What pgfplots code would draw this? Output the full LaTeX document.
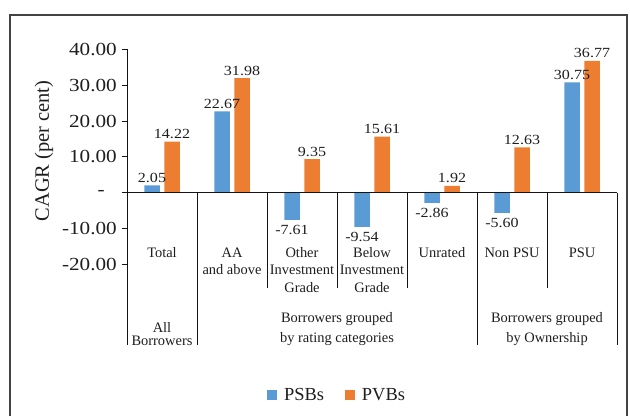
\documentclass[border=0pt]{standalone}
\usepackage{fontspec}
\setmainfont{Liberation Serif}
\newfontfamily\digitfont[FakeStretch=1.15]{Liberation Serif}
\usepackage{pgfplots}
\pgfplotsset{compat=1.18}
\definecolor{psb}{RGB}{91,155,213}
\definecolor{pvb}{RGB}{237,125,49}
\definecolor{txt}{RGB}{30,30,30}
\definecolor{lin}{RGB}{20,20,20}
\begin{document}
\begin{tikzpicture}[x=1bp,y=1bp]
\useasboundingbox (0,0) rectangle (630,416);
\draw[lin!80, line width=1.3bp] (10,0) -- (10,401) -- (627,401) -- (627,0);
\begin{axis}[
  at={(127bp,151.6bp)}, anchor=south west,
  scale only axis, width=490bp, height=215.1bp,
  xmin=0, xmax=7, ymin=-20, ymax=40,
  clip=false,
  axis x line=none, axis y line*=left,
  axis line style={lin, line width=1bp},
  xtick=\empty,
  ytick={-20,-10,0,10,20,30,40},
  yticklabels={{-20.00},{-10.00},{-\hspace*{12bp}},{10.00},{20.00},{30.00},{40.00}},
  yticklabel style={font=\digitfont\fontsize{18.5}{20}\selectfont, text=txt, inner sep=1bp, xshift=-4bp},
  tick align=outside, major tick length=5bp,
  ytick style={lin, line width=1bp},
  ybar=4.5bp, bar width=15.5bp,
  point meta=explicit symbolic,
  nodes near coords,
  visualization depends on={value \thisrow{anc}\as\myanchor},
  visualization depends on={value \thisrow{dy}\as\mydy},
  every node near coord/.append style={font=\digitfont\fontsize{14}{16}\selectfont, text=txt, inner sep=2.5bp, anchor=\myanchor, yshift=\mydy bp},
  legend image code/.code={\fill[#1] (0bp,-5bp) rectangle (10bp,5bp);},
  legend columns=2,
  legend style={at={(0.4286,-0.607)}, anchor=center, draw=none, fill=none,
     font=\fontsize{18.5}{20}\selectfont, text=txt,
     /tikz/column 1/.style={column sep=5bp},
     /tikz/column 2/.style={column sep=19bp},
     /tikz/column 3/.style={column sep=5bp}},
]
\addplot[fill=psb, draw=none] table[x=x, y=y, meta=lab] {
x y lab anc dy
0.5 2.05 2.05 south 0
1.5 22.67 22.67 south 0
2.5 -7.61 -7.61 north -3
3.5 -9.54 -9.54 north -3
4.5 -2.86 -2.86 north -3
5.5 -5.60 -5.60 north -3
6.5 30.75 30.75 south 0
};
\addlegendentry{PSBs}
\addplot[fill=pvb, draw=none] table[x=x, y=y, meta=lab] {
x y lab anc dy
0.5 14.22 14.22 south 0
1.5 31.98 31.98 south 0
2.5 9.35 9.35 south 0
3.5 15.61 15.61 south 0
4.5 1.92 1.92 south 0
5.5 12.63 12.63 south 0
6.5 36.77 36.77 south 0
};
\addlegendentry{PVBs}
% zero line and category frame
\draw[lin, line width=1bp] (axis cs:0,0) -- (axis cs:7,0);
\draw[lin, line width=1bp] (axis cs:0,-20) -- (axis cs:0,-42.5);
\draw[lin, line width=1bp] (axis cs:2,0) -- (axis cs:2,-26.6);
\draw[lin, line width=1bp] (axis cs:3,0) -- (axis cs:3,-26.6);
\draw[lin, line width=1bp] (axis cs:4,0) -- (axis cs:4,-26.6);
\draw[lin, line width=1bp] (axis cs:6,0) -- (axis cs:6,-26.6);
\draw[lin, line width=1bp] (axis cs:1,0) -- (axis cs:1,-42.5);
\draw[lin, line width=1bp] (axis cs:5,0) -- (axis cs:5,-42.5);
\draw[lin, line width=1bp] (axis cs:7,0) -- (axis cs:7,-42.5);
\end{axis}
% category labels
\begin{scope}[every node/.style={anchor=base, inner sep=0pt, text=txt, font=\fontsize{14.5}{17.5}\selectfont}]
\node at (162,159) {Total};
\node at (232,159) {AA};
\node at (232,141.5) {and above};
\node at (302,159) {Other};
\node at (302,141.5) {Investment};
\node at (302,124) {Grade};
\node at (372,159) {Below};
\node at (372,141.5) {Investment};
\node at (372,124) {Grade};
\node at (442,159) {Unrated};
\node at (512,159) {Non PSU};
\node at (582,159) {PSU};
\node at (162,84) {All};
\node at (162,70.5) {Borrowers};
\node at (337,94) {Borrowers grouped};
\node at (337,74) {by rating categories};
\node at (547,94) {Borrowers grouped};
\node at (547,74) {by Ownership};
\end{scope}
\node[rotate=90, text=txt, font=\fontsize{20.5}{22}\selectfont] at (44,265) {CAGR (per cent)};
\end{tikzpicture}
\end{document}
